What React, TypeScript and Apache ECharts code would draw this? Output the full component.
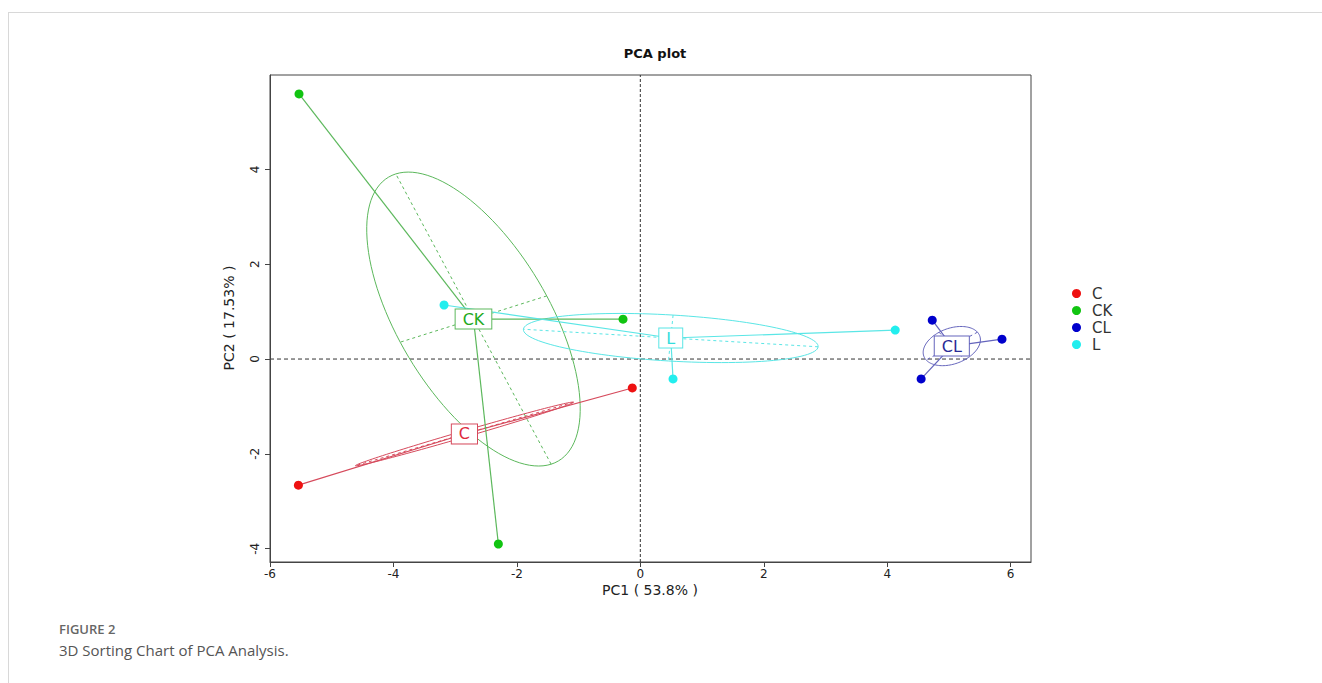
import React, { useEffect, useRef } from 'react';
import * as echarts from 'echarts';

// ---- data ----
const groups = ['C', 'CK', 'CL', 'L'];
const pointsC = [[-5.54, -2.66], [-0.13, -0.61], [-2.88, -1.47]];
const pointsCK = [[-5.53, 5.59], [-0.28, 0.84], [-2.3, -3.9]];
const pointsCL = [[4.73, 0.82], [5.86, 0.42], [4.55, -0.42]];
const pointsL = [[-3.18, 1.14], [4.13, 0.61], [0.53, -0.42]];
const groupPoints = [pointsC, pointsCK, pointsCL, pointsL];

const pointColors = ['#ee1111', '#11c411', '#0000cc', '#22eeee'];
const lineColors = ['#d64a5c', '#5cb85c', '#6464bc', '#5ae6e6'];
const textColors = ['#dd2a40', '#22aa22', '#2a2a96', '#33dcdc'];

const xTicks = [-6, -4, -2, 0, 2, 4, 6];
const yTicks = [-4, -2, 0, 2, 4];
const xRange = [-6.0, 6.33];
const yRange = [-4.28, 5.99];
const refLines = [[0, 0]]; // x = 0 and y = 0 reference lines
const ELLIPSE_SCALE = 0.8;

function centroid(pts: number[][]) {
  const n = pts.length;
  let sx = 0, sy = 0;
  pts.forEach((p) => { sx += p[0]; sy += p[1]; });
  return [sx / n, sy / n];
}

function ellipseOf(pts: number[][]) {
  const [mx, my] = centroid(pts);
  const n = pts.length;
  let sxx = 0, syy = 0, sxy = 0;
  pts.forEach((p) => {
    const dx = p[0] - mx, dy = p[1] - my;
    sxx += dx * dx; syy += dy * dy; sxy += dx * dy;
  });
  sxx /= n; syy /= n; sxy /= n;
  const tr = sxx + syy;
  const det = sxx * syy - sxy * sxy;
  const disc = Math.sqrt(Math.max(tr * tr / 4 - det, 0));
  const l1 = tr / 2 + disc;
  const l2 = Math.max(tr / 2 - disc, 0);
  const theta = 0.5 * Math.atan2(2 * sxy, sxx - syy);
  return [mx, my, ELLIPSE_SCALE * Math.sqrt(l1), ELLIPSE_SCALE * Math.sqrt(l2), theta];
}

export default function App() {
  const ref = useRef<HTMLDivElement>(null);

  useEffect(() => {
    if (!ref.current) return;
    const chart = echarts.init(ref.current, null, { renderer: 'svg' });

    const ellipseData = groupPoints.map((pts, g) => [...ellipseOf(pts), g]);
    const starData: number[][] = [];
    groupPoints.forEach((pts, g) => {
      const c = centroid(pts);
      pts.forEach((p) => starData.push([c[0], c[1], p[0], p[1], g]));
    });
    const labelData = groupPoints.map((pts, g) => [...centroid(pts), g]);

    const font = '"DejaVu Sans", sans-serif';

    const option: any = {
      animation: false,
      backgroundColor: '#fff',
      title: {
        text: 'PCA plot',
        left: 650,
        top: 42,
        textAlign: 'center',
        textStyle: { fontSize: 13, fontWeight: 'bold', color: '#111', fontFamily: font },
      },
      legend: {
        data: groups,
        orient: 'vertical',
        left: 1067,
        top: 281,
        icon: 'circle',
        itemWidth: 9,
        itemHeight: 9,
        itemGap: 2,
        textStyle: { fontSize: 15, color: '#333', fontFamily: font, padding: [0, 0, 0, 6] },
      },
      grid: {
        left: 270,
        top: 75,
        width: 761,
        height: 487,
        show: true,
        borderColor: '#444',
        borderWidth: 1,
      },
      xAxis: {
        type: 'value',
        min: xRange[0],
        max: xRange[1],
        splitLine: { show: false },
        axisLine: { show: true, onZero: false, lineStyle: { color: '#444' } },
        axisTick: { show: true, customValues: xTicks, length: 5, lineStyle: { color: '#444' } },
        axisLabel: { customValues: xTicks, margin: 6, fontSize: 12, color: '#222', fontFamily: font },
      },
      yAxis: {
        type: 'value',
        min: yRange[0],
        max: yRange[1],
        splitLine: { show: false },
        axisLine: { show: true, onZero: false, lineStyle: { color: '#444' } },
        axisTick: { show: true, customValues: yTicks, length: 5, lineStyle: { color: '#444' } },
        axisLabel: { customValues: yTicks, rotate: 90, margin: 9, fontSize: 12, color: '#222', fontFamily: font },
      },
      graphic: [
        {
          type: 'text',
          x: 650,
          y: 590,
          style: { text: 'PC1 ( 53.8% )', fontSize: 14, fill: '#222', fontFamily: font, align: 'center', verticalAlign: 'middle' },
        },
        {
          type: 'text',
          x: 229,
          y: 318,
          rotation: Math.PI / 2,
          style: { text: 'PC2 ( 17.53% )', fontSize: 14, fill: '#222', fontFamily: font, align: 'center', verticalAlign: 'middle' },
        },
      ],
      series: [
        {
          type: 'custom',
          name: 'reference',
          z: 0,
          silent: true,
          dimensions: ['x', 'y'],
          encode: { x: 0, y: 1 },
          data: refLines,
          renderItem: (params: any, api: any) => {
            const x0 = api.value(0), y0 = api.value(1);
            const v1 = api.coord([x0, yRange[0]]), v2 = api.coord([x0, yRange[1]]);
            const h1 = api.coord([xRange[0], y0]), h2 = api.coord([xRange[1], y0]);
            return {
              type: 'group',
              children: [
                { type: 'line', shape: { x1: v1[0], y1: v1[1], x2: v2[0], y2: v2[1] }, style: { stroke: '#333', lineWidth: 1, lineDash: [3, 2] } },
                { type: 'line', shape: { x1: h1[0], y1: h1[1], x2: h2[0], y2: h2[1] }, style: { stroke: '#333', lineWidth: 1, lineDash: [4, 3] } },
              ],
            };
          },
        },
        {
          type: 'custom',
          name: 'ellipses',
          z: 1,
          silent: true,
          dimensions: ['x', 'y', 'a', 'b', 'theta', 'g'],
          encode: { x: 0, y: 1 },
          data: ellipseData,
          renderItem: (params: any, api: any) => {
            const cx = api.value(0), cy = api.value(1), a = api.value(2), b = api.value(3), th = api.value(4);
            const g = api.value(5);
            const c = Math.cos(th), s = Math.sin(th);
            const pt = (u: number, v: number) => api.coord([cx + u * c - v * s, cy + u * s + v * c]);
            const poly: number[][] = [];
            for (let i = 0; i <= 120; i++) {
              const t = (i / 120) * Math.PI * 2;
              poly.push(pt(a * Math.cos(t), b * Math.sin(t)));
            }
            const m1 = pt(a, 0), m2 = pt(-a, 0), n1 = pt(0, b), n2 = pt(0, -b);
            const col = lineColors[g];
            return {
              type: 'group',
              children: [
                { type: 'polyline', shape: { points: poly }, style: { stroke: col, fill: null, lineWidth: 1 } },
                { type: 'line', shape: { x1: m1[0], y1: m1[1], x2: m2[0], y2: m2[1] }, style: { stroke: col, lineWidth: 1, lineDash: [3, 3] } },
                { type: 'line', shape: { x1: n1[0], y1: n1[1], x2: n2[0], y2: n2[1] }, style: { stroke: col, lineWidth: 1, lineDash: [3, 3] } },
              ],
            };
          },
        },
        {
          type: 'custom',
          name: 'stars',
          z: 2,
          silent: true,
          dimensions: ['cx', 'cy', 'px', 'py', 'g'],
          encode: { x: [0, 2], y: [1, 3] },
          data: starData,
          renderItem: (params: any, api: any) => {
            const p1 = api.coord([api.value(0), api.value(1)]);
            const p2 = api.coord([api.value(2), api.value(3)]);
            const g = api.value(4);
            return {
              type: 'line',
              shape: { x1: p1[0], y1: p1[1], x2: p2[0], y2: p2[1] },
              style: { stroke: lineColors[g], lineWidth: 1.2 },
            };
          },
        },
        ...groups.map((name, g) => ({
          type: 'scatter',
          name,
          z: 3,
          symbol: 'circle',
          symbolSize: 9,
          itemStyle: { color: pointColors[g], opacity: 1 },
          data: groupPoints[g],
        })),
        {
          type: 'custom',
          name: 'labels',
          z: 5,
          silent: true,
          dimensions: ['x', 'y', 'g'],
          encode: { x: 0, y: 1 },
          data: labelData,
          renderItem: (params: any, api: any) => {
            const p = api.coord([api.value(0), api.value(1)]);
            const g = api.value(2);
            return {
              type: 'text',
              x: p[0],
              y: p[1],
              style: {
                text: groups[g],
                fill: textColors[g],
                fontSize: 16,
                fontFamily: font,
                align: 'center',
                verticalAlign: 'middle',
                backgroundColor: '#fff',
                borderColor: lineColors[g],
                borderWidth: 1,
                padding: [2, 7, 1, 7],
              },
            };
          },
        },
      ],
    };

    chart.setOption(option);
    return () => chart.dispose();
  }, []);

  return (
    <div style={{ position: 'absolute', left: 0, top: 0, width: 1322, height: 683, background: '#fff', overflow: 'hidden' }}>
      <div ref={ref} style={{ position: 'absolute', left: 0, top: 0, width: 1322, height: 683 }} />
      <div style={{ position: 'absolute', left: 8, top: 12, width: 1314, height: 0, borderTop: '1px solid #d8d8d8' }} />
      <div style={{ position: 'absolute', left: 8, top: 12, width: 0, height: 671, borderLeft: '1px solid #d8d8d8' }} />
      <div style={{ position: 'absolute', left: 59, top: 620, fontFamily: '"Open Sans", sans-serif', fontSize: 13, fontWeight: 600, color: '#666' }}>
        FIGURE 2
      </div>
      <div style={{ position: 'absolute', left: 59, top: 640, fontFamily: '"Open Sans", sans-serif', fontSize: 15, color: '#555' }}>
        3D Sorting Chart of PCA Analysis.
      </div>
    </div>
  );
}
